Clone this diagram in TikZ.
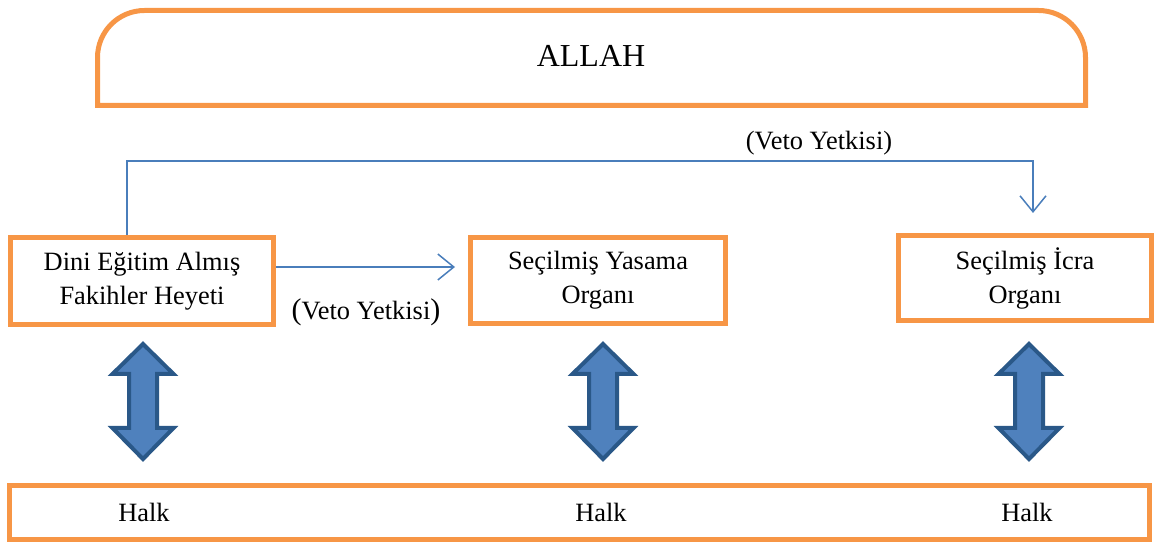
\documentclass[tikz,border=0pt]{standalone}
\usepackage{fontspec}
\setmainfont{Liberation Serif}
\usepackage{xcolor}
\usetikzlibrary{arrows.meta}
\definecolor{kutuorange}{HTML}{F79646}
\definecolor{vetoblue}{HTML}{4A7EBB}
\definecolor{okfill}{HTML}{4F81BD}
\definecolor{okline}{HTML}{2A5888}

\begin{document}
\begin{tikzpicture}[x=0.5pt, y=-0.5pt,
  kutu/.style={draw=kutuorange, line width=2.5pt, align=center, inner sep=0pt, font=\fontsize{13.2}{17}\selectfont},
  veto/.style={draw=vetoblue, line width=0.75pt, -{Straight Barb[length=8pt,width=13pt]}},
  yazi/.style={font=\fontsize{13.2}{17}\selectfont, inner sep=0pt}]
\useasboundingbox (0,0) rectangle (1156,544);
%%%%% Allah %%%%%
\draw[kutuorange, line width=2.5pt] (97.5,105.5) -- (97.5,57.5) arc[start angle=180, end angle=270, radius=47]
  -- (1038.5,10.5) arc[start angle=270, end angle=360, radius=47] -- (1085.5,105.5) -- cycle;
\node[font=\fontsize{16}{19}\selectfont] (allah) at (591,56) {ALLAH};
%%%%% Organlar %%%%%
\node[kutu, minimum width=131.5pt, minimum height=43.5pt] (dini) at (142,281) {Dini Eğitim Almış\\Fakihler Heyeti};
\node[kutu, minimum width=127.5pt, minimum height=43pt] (yasama) at (598,280.5) {Seçilmiş Yasama\\Organı};
\node[kutu, minimum width=126.5pt, minimum height=42.5pt] (icra) at (1025,278) {Seçilmiş İcra\\Organı};
\node[kutu, minimum width=570pt, minimum height=27pt] (halk) at (579.5,512.5) {};
\foreach \x/\n in {144/halka,601/halkb,1027/halkc}{
\node[yazi] (\n) at (\x,512) {Halk};
}
%%%%% Veto %%%%%
\coordinate (vkose) at (127,161);
\coordinate (icraucu) at (1033,213);
\coordinate (yasamaucu) at (455,267);
\draw[veto] (dini.north -| vkose) -- (vkose) -| (icraucu);
\draw[veto] (dini.east |- yasamaucu) -- (yasamaucu);
\node[yazi] (vetoa) at (819,143) {(Veto Yetkisi)};
\node[yazi] (vetob) at (366,312) {{\fontsize{15}{17}\selectfont(}Veto Yetkisi{\fontsize{15}{17}\selectfont)}};
%%%%% Oklar %%%%%
\foreach \cx in {143,603,1029}{
\draw[okline, fill=okfill, line width=2pt] (\cx,344) -- ++(30.5,30) -- ++(-16.5,0) -- ++(0,54) -- ++(16.5,0)
  -- (\cx,459) -- ++(-30.5,-31) -- ++(16.5,0) -- ++(0,-54) -- ++(-16.5,0) -- cycle;
}
\end{tikzpicture}
\end{document}
